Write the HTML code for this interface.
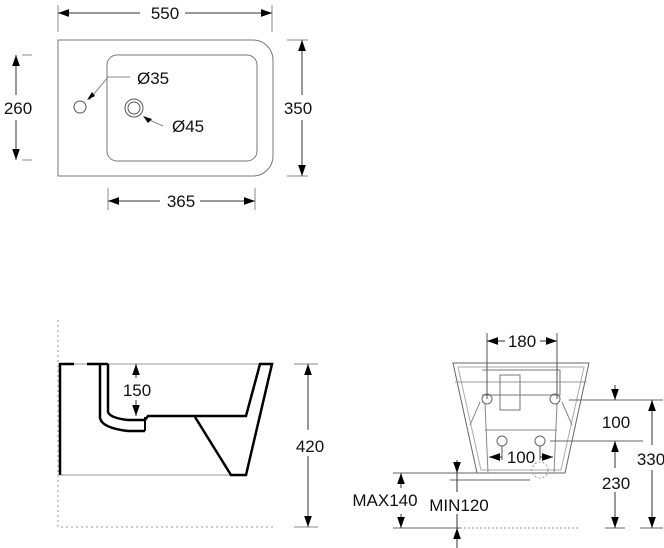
<!DOCTYPE html>
<html><head><meta charset="utf-8"><style>
html,body{margin:0;padding:0;background:#fff;}
svg{display:block;}
text{font-family:"Liberation Sans",Arial,sans-serif;font-size:17px;fill:#111;}
</style></head><body>
<svg width="664" height="548" viewBox="0 0 664 548" xmlns="http://www.w3.org/2000/svg">
<defs>
<marker id="a" viewBox="0 0 10 10" refX="10" refY="5" markerWidth="11" markerHeight="11" markerUnits="userSpaceOnUse" orient="auto-start-reverse"><path d="M0,1.5 L10,5 L0,8.5z" fill="#000"/></marker>
</defs>
<g stroke="#555" stroke-width="1" fill="none">
<path d="M58,40 H253 A20,20 0 0 1 273,60 V156 A20,20 0 0 1 253,176 H58 Z" stroke="#777"/>
<rect x="107" y="55" width="150" height="106" rx="10" stroke="#777"/>
<circle cx="80" cy="107" r="6"/>
<circle cx="134" cy="108" r="9"/><circle cx="134" cy="108" r="6"/>
<path d="M130,77 H108 L89,100" stroke="#888"/>
<path d="M145,118 L163,126" stroke="#888"/>
<path d="M58,5 V32 M272,5 V32 M22,55 H32 M22,160 H32 M287,40 H308 M287,176 H308 M108,188 V210 M255,188 V210" stroke="#888"/>
<line x1="58" y1="13" x2="140" y2="13" marker-start="url(#a)" stroke="#333"/>
<line x1="185" y1="13" x2="272" y2="13" marker-end="url(#a)" stroke="#333"/>
<line x1="16" y1="55" x2="16" y2="95" marker-start="url(#a)" stroke="#333"/>
<line x1="16" y1="120" x2="16" y2="160" marker-end="url(#a)" stroke="#333"/>
<line x1="302" y1="40" x2="302" y2="95" marker-start="url(#a)" stroke="#333"/>
<line x1="302" y1="120" x2="302" y2="176" marker-end="url(#a)" stroke="#333"/>
<line x1="108" y1="201" x2="160" y2="201" marker-start="url(#a)" stroke="#333"/>
<line x1="200" y1="201" x2="255" y2="201" marker-end="url(#a)" stroke="#333"/>
</g>
<path d="M87,100 l5,-8 l3,4z M143,116 l9,3 l-4,4z" fill="#000"/>
<text x="165" y="19" text-anchor="middle">550</text>
<text x="137" y="84">Ø35</text>
<text x="172" y="132">Ø45</text>
<text x="18" y="114" text-anchor="middle">260</text>
<text x="298" y="114" text-anchor="middle">350</text>
<text x="181" y="207" text-anchor="middle">365</text>

<g fill="none">
<path d="M58,320 V527 H273" stroke="#999" stroke-dasharray="2,3"/>
<line x1="59" y1="364" x2="272" y2="364" stroke="#999"/>
<line x1="60" y1="475" x2="230" y2="475" stroke="#999"/>
<path d="M60,475 V364 H74 M87,364 H108" stroke="#000" stroke-width="2.5"/>
<path d="M100,364 V418 Q102,428 128,431 H145 M108,364 V412 Q110,418 128,420 H145 L148,416 H246 L260,364 H272 L246,475 H231 L195,417" stroke="#000" stroke-width="2.5"/>
<line x1="145" y1="417" x2="145" y2="431" stroke="#000" stroke-width="2"/>
<path d="M294,364 H318 M294,527 H318" stroke="#888"/>
<line x1="136" y1="364" x2="136" y2="378" stroke="#333" marker-start="url(#a)"/>
<line x1="136" y1="400" x2="136" y2="416" stroke="#333" marker-end="url(#a)"/>
<line x1="308" y1="364" x2="308" y2="430" stroke="#333" marker-start="url(#a)"/>
<line x1="308" y1="456" x2="308" y2="527" stroke="#333" marker-end="url(#a)"/>
</g>
<text x="137" y="396" text-anchor="middle">150</text>
<text x="310" y="452" text-anchor="middle">420</text>

<g fill="none" stroke="#666" stroke-width="1">
<path d="M453,363 H589 L565,473 H477 Z"/>
<path d="M458,367 H584 L561,470 H481 Z" stroke="#aaa"/>
<path d="M455,382 H587" stroke="#999"/>
<path d="M500,375 V410 H520 V375 Z M482,370 H560 V395 H482" stroke="#777"/>
<path d="M485,430 H557" stroke="#888"/>
<circle cx="487" cy="399" r="5"/><circle cx="555" cy="399" r="5"/>
<path d="M480,402 L470,425 M562,402 L572,425 M485,404 L488,473 M557,404 L554,473" stroke="#888"/>
<circle cx="502" cy="441" r="5"/><circle cx="540" cy="441" r="5"/>
<circle cx="540" cy="470" r="8" stroke-dasharray="2,2" stroke="#999"/>
<path d="M487,333 V399 M557,333 V399 M502,446 V460 M540,446 V460" stroke="#555"/>
<path d="M569,400 H663 M550,441 H643 M393,473 H478 M450,480 H530 M393,528 H460 M605,528 H625 M640,528 H663" stroke="#666"/>
<path d="M460,528 H580" stroke="#999" stroke-dasharray="2,2"/>
</g>
<g stroke="#333" fill="none">
<line x1="487" y1="341" x2="505" y2="341" marker-start="url(#a)"/>
<line x1="540" y1="341" x2="557" y2="341" marker-end="url(#a)"/>
<line x1="489" y1="457" x2="502" y2="457" marker-start="url(#a)"/>
<line x1="540" y1="457" x2="553" y2="457" marker-end="url(#a)"/>
<line x1="615" y1="385" x2="615" y2="400" marker-end="url(#a)"/>
<line x1="615" y1="441" x2="615" y2="468" marker-start="url(#a)"/>
<line x1="615" y1="492" x2="615" y2="528" marker-end="url(#a)"/>
<line x1="652" y1="400" x2="652" y2="445" marker-start="url(#a)"/>
<line x1="652" y1="470" x2="652" y2="528" marker-end="url(#a)"/>
<line x1="401" y1="473" x2="401" y2="488" marker-start="url(#a)"/>
<line x1="401" y1="514" x2="401" y2="528" marker-end="url(#a)"/>
<line x1="457" y1="460" x2="457" y2="473" marker-end="url(#a)"/>
<line x1="457" y1="473" x2="457" y2="492"/>
<line x1="457" y1="514" x2="457" y2="548"/>
<line x1="457" y1="542" x2="457" y2="528" marker-end="url(#a)"/>
</g>
<text x="522" y="347" text-anchor="middle">180</text>
<text x="521" y="463" text-anchor="middle">100</text>
<text x="616" y="428" text-anchor="middle">100</text>
<text x="651" y="465" text-anchor="middle">330</text>
<text x="616" y="489" text-anchor="middle">230</text>
<text x="385" y="506" text-anchor="middle">MAX140</text>
<text x="459" y="511" text-anchor="middle">MIN120</text>
</svg>
</body></html>
